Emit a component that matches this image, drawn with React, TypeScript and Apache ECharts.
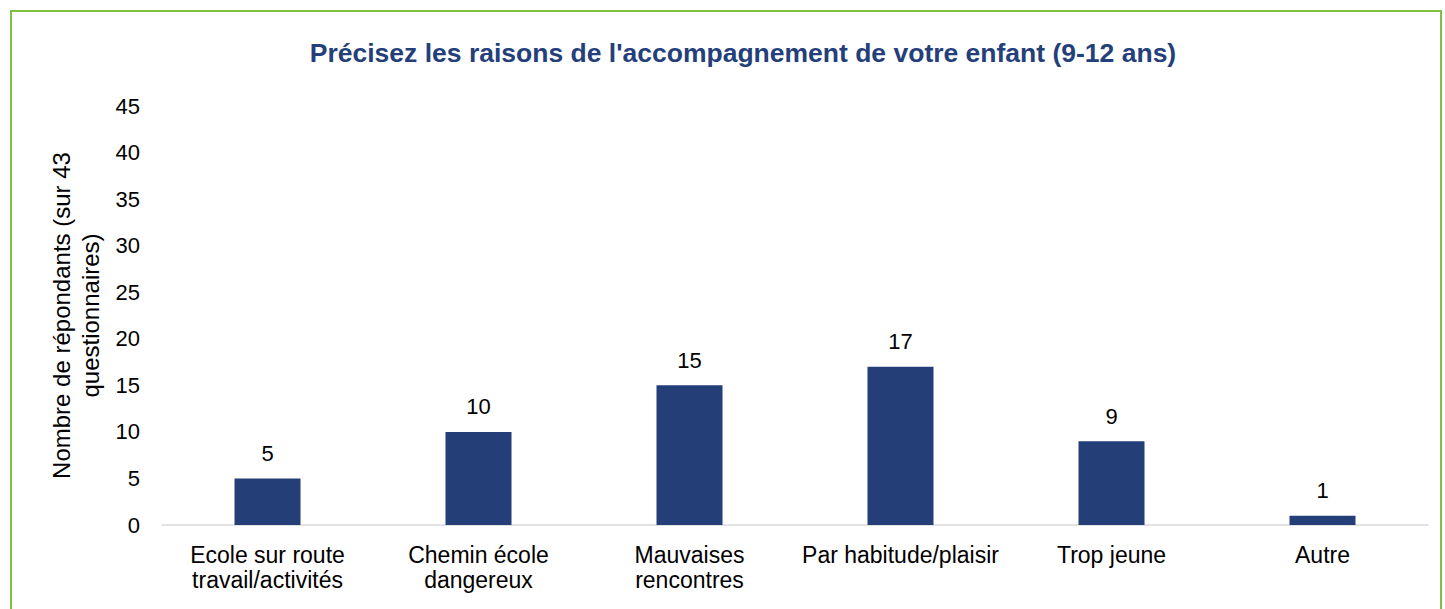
import React, { useEffect, useRef } from "react";
import * as echarts from "echarts";

const categories = [
  "Ecole sur route\ntravail/activités",
  "Chemin école\ndangereux",
  "Mauvaises\nrencontres",
  "Par habitude/plaisir",
  "Trop jeune",
  "Autre",
];
const values = [5, 10, 15, 17, 9, 1];
const titleText = "Précisez les raisons de l'accompagnement de votre enfant (9-12 ans)";
const yAxisName = "Nombre de répondants (sur 43\nquestionnaires)";

export default function App() {
  const ref = useRef<HTMLDivElement>(null);
  useEffect(() => {
    if (!ref.current) return;
    const chart = echarts.init(ref.current, null, { renderer: "svg" });
    const font = "'Liberation Sans', Arial, sans-serif";
    chart.setOption({
      animation: false,
      backgroundColor: "#ffffff",
      textStyle: { fontFamily: font },
      title: {
        text: titleText,
        left: 738,
        textAlign: "center",
        top: 34,
        textStyle: { fontFamily: font, fontSize: 26.5, fontWeight: "bold", color: "#243F7A" },
      },
      graphic: [
        {
          type: "rect",
          shape: { x: 11, y: 11, width: 1430, height: 640 },
          style: { fill: "none", stroke: "#7DC242", lineWidth: 2 },
          silent: true,
        },
      ],
      grid: { left: 162, right: 17, top: 106, bottom: 84, containLabel: false },
      xAxis: {
        type: "category",
        data: categories,
        axisLine: { lineStyle: { color: "#D9D9D9", width: 1.5 } },
        axisTick: { show: false },
        axisLabel: {
          fontFamily: font,
          fontSize: 23,
          color: "#000000",
          margin: 17,
          lineHeight: 25,
          interval: 0,
        },
      },
      yAxis: {
        type: "value",
        min: 0,
        max: 45,
        interval: 5,
        splitLine: { show: false },
        axisLine: { show: false },
        axisTick: { show: false },
        axisLabel: { fontFamily: font, fontSize: 22, color: "#000000", margin: 22 },
        name: yAxisName,
        nameLocation: "middle",
        nameGap: 51,
        nameRotate: 90,
        nameTextStyle: { fontFamily: font, fontSize: 24, color: "#000000", lineHeight: 29, align: "center" },
      },
      series: [
        {
          type: "bar",
          data: values,
          barWidth: 66,
          itemStyle: { color: "#243F78" },
          label: {
            show: true,
            position: "top",
            distance: 14,
            fontFamily: font,
            fontSize: 22,
            color: "#000000",
          },
        },
      ],
    });
    return () => chart.dispose();
  }, []);
  return (
    <div
      ref={ref}
      style={{ position: "fixed", left: 0, top: 0, width: 1445, height: 609 }}
    />
  );
}
